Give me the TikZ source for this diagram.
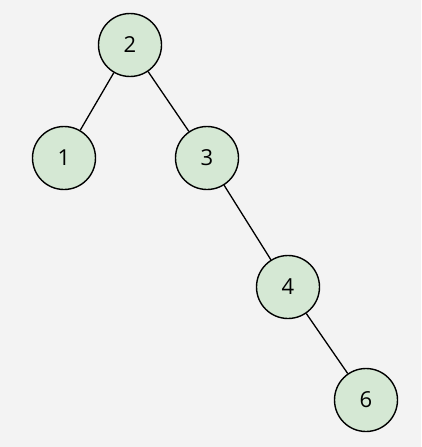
\documentclass[tikz,border=0pt]{standalone}
\usepackage{fontspec}
\setmainfont{Open Sans}
\definecolor{bgback}{HTML}{F3F3F3}
\definecolor{nodegreen}{HTML}{D5E8D4}
\tikzset{
  treenode/.style={circle, draw=black, fill=nodegreen, line width=1.4pt,
    minimum size=63pt, inner sep=0pt, font=\fontsize{22}{26}\selectfont},
  treeedge/.style={line width=1.3pt}
}
\begin{document}
\begin{tikzpicture}[x=1pt,y=-1pt]
  \fill[bgback] (0,0) rectangle (421,447);
  \useasboundingbox (0,0) rectangle (421,447);

  \node[treenode] (n2) at (130,45) {2};
  \node[treenode] (n1) at (64,158) {1};
  \node[treenode] (n3) at (207,158) {3};
  \node[treenode] (n4) at (288,287) {4};
  \node[treenode] (n6) at (366,400) {6};

  \draw[treeedge] (n2) -- (n1);
  \draw[treeedge] (n2) -- (n3);
  \draw[treeedge] (n3) -- (n4);
  \draw[treeedge] (n4) -- (n6);
\end{tikzpicture}
\end{document}
